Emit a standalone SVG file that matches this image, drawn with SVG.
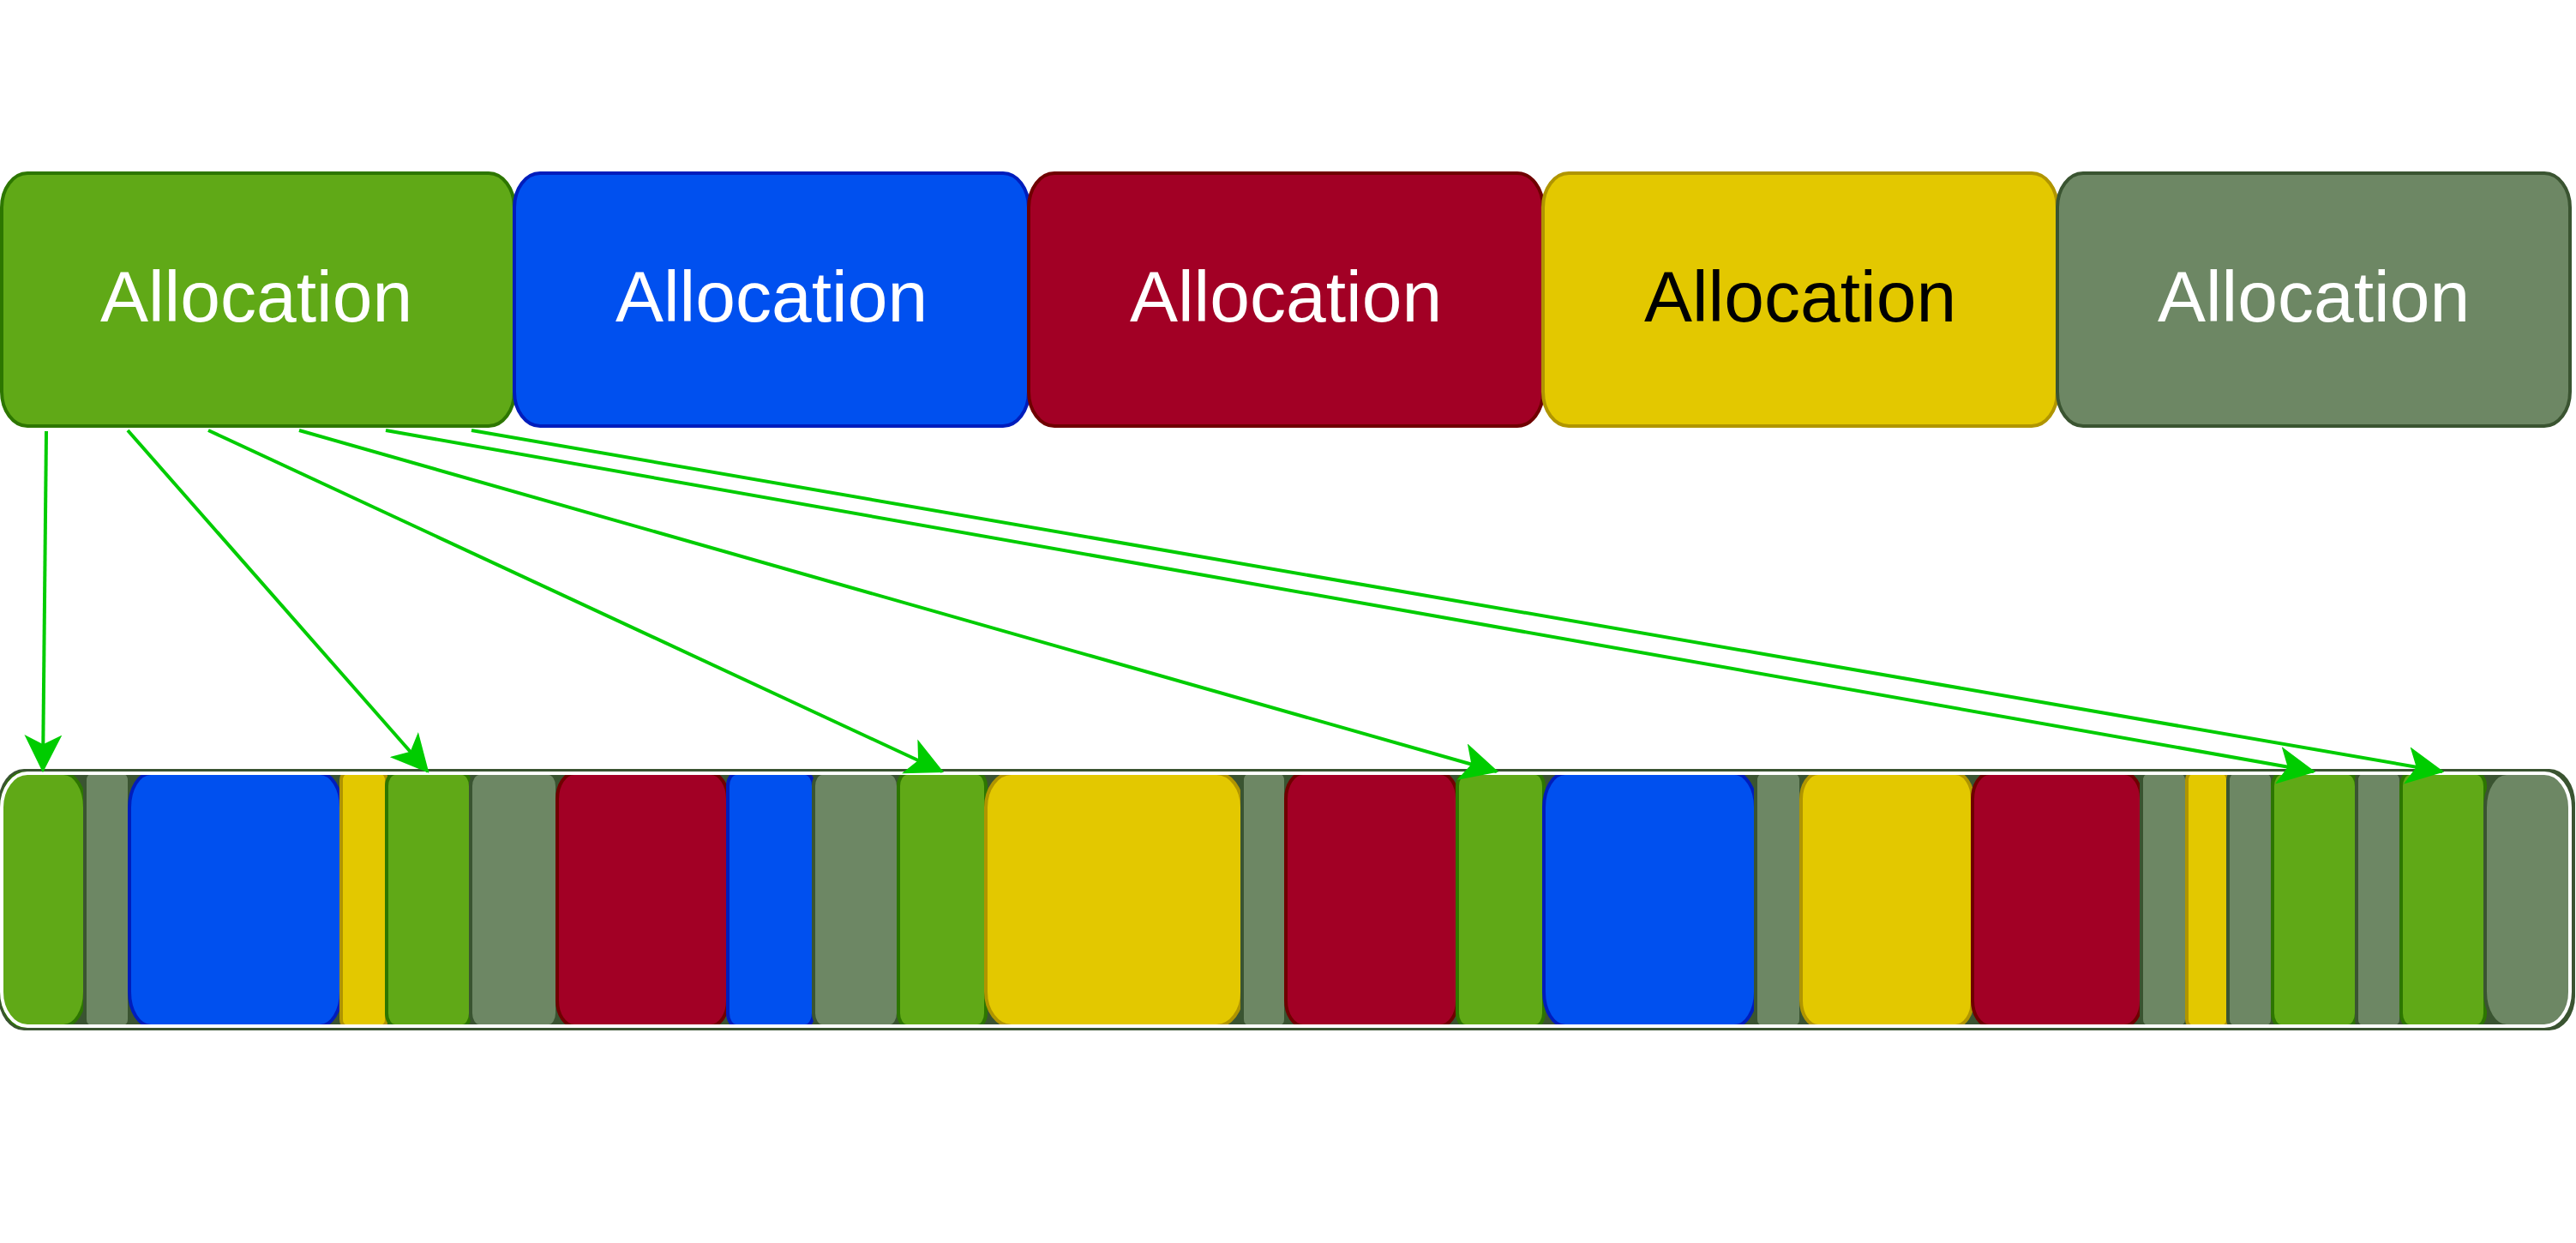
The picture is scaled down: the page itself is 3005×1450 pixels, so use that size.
<svg xmlns="http://www.w3.org/2000/svg" width="3005" height="1450" viewBox="0 0 3005 1450">
<style>
.g{fill:#60a917;stroke:#2d7600}.b{fill:#0050ef;stroke:#001dbc}.r{fill:#a20025;stroke:#6f0000}.y{fill:#e3c800;stroke:#b09500}.s{fill:#6d8764;stroke:#3a5431}
rect{stroke-width:4}
.t{font-family:"Liberation Sans",Arial,sans-serif;font-size:84px;text-anchor:middle;fill:#fff}
.c{stroke:#00cc00;stroke-width:4;fill:none;marker-end:url(#ah)}
</style>
<defs>
<marker id="ah" markerUnits="userSpaceOnUse" viewBox="0 0 40 40" refX="38" refY="20" markerWidth="44" markerHeight="44" orient="auto">
<path d="M0,0 L40,20 L0,40 L10,20 Z" fill="#00cc00"/>
</marker>
</defs>
<g id="top">
<g id="a1"><rect class="g" x="2" y="202" width="598" height="295" rx="30" ry="40"/><text class="t" x="299" y="375">Allocation</text></g>
<g id="a2"><rect class="b" x="600" y="202" width="600" height="295" rx="30" ry="40"/><text class="t" x="900" y="375">Allocation</text></g>
<g id="a3"><rect class="r" x="1200" y="202" width="600" height="295" rx="30" ry="40"/><text class="t" x="1500" y="375">Allocation</text></g>
<g id="a4"><rect class="y" x="1800" y="202" width="600" height="295" rx="30" ry="40"/><text class="t" x="2100" y="375" style="fill:#000">Allocation</text></g>
<g id="a5"><rect class="s" x="2400" y="202" width="598" height="295" rx="30" ry="40"/><text class="t" x="2699" y="375">Allocation</text></g>
</g>
<g id="bar">
<rect x="-2" y="897" width="3006" height="305" rx="30" ry="40" fill="#3a5431" stroke="none"/>
<rect class="g" x="2" y="902" width="97" height="295" rx="25" ry="40"/>
<rect class="s" x="99" y="902" width="52" height="295" rx="5" ry="8"/>
<rect class="b" x="151" y="902" width="247" height="295" rx="25" ry="40"/>
<rect class="y" x="398" y="902" width="53" height="295" rx="5" ry="8"/>
<rect class="g" x="451" y="902" width="98" height="295" rx="10" ry="15"/>
<rect class="s" x="549" y="902" width="101" height="295" rx="10" ry="15"/>
<rect class="r" x="650" y="902" width="199" height="295" rx="20" ry="30"/>
<rect class="b" x="849" y="902" width="100" height="295" rx="10" ry="15"/>
<rect class="s" x="949" y="902" width="99" height="295" rx="10" ry="15"/>
<rect class="g" x="1048" y="902" width="102" height="295" rx="10" ry="15"/>
<rect class="y" x="1150" y="902" width="299" height="295" rx="30" ry="40"/>
<rect class="s" x="1449" y="902" width="51" height="295" rx="5" ry="8"/>
<rect class="r" x="1500" y="902" width="200" height="295" rx="20" ry="30"/>
<rect class="g" x="1700" y="902" width="101" height="295" rx="10" ry="15"/>
<rect class="b" x="1801" y="902" width="247" height="295" rx="25" ry="40"/>
<rect class="s" x="2048" y="902" width="53" height="295" rx="5" ry="8"/>
<rect class="y" x="2101" y="902" width="200" height="295" rx="20" ry="30"/>
<rect class="r" x="2301" y="902" width="197" height="295" rx="20" ry="30"/>
<rect class="s" x="2498" y="902" width="53" height="295" rx="5" ry="8"/>
<rect class="y" x="2551" y="902" width="48" height="295" rx="5" ry="8"/>
<rect class="s" x="2599" y="902" width="52" height="295" rx="5" ry="8"/>
<rect class="g" x="2651" y="902" width="98" height="295" rx="10" ry="15"/>
<rect class="s" x="2749" y="902" width="52" height="295" rx="5" ry="8"/>
<rect class="g" x="2801" y="902" width="98" height="295" rx="10" ry="15"/>
<rect class="s" x="2899" y="902" width="99" height="295" rx="25" ry="40"/>
<rect x="2" y="902" width="2996" height="295" rx="30" ry="40" fill="none" stroke="#fff" stroke-width="4"/>
</g>
<g id="connectors">
<line class="c" x1="54" y1="503" x2="50" y2="899"/>
<line class="c" x1="149" y1="502" x2="499" y2="900"/>
<line class="c" x1="243" y1="502" x2="1099" y2="900"/>
<line class="c" x1="349" y1="502" x2="1746" y2="900"/>
<line class="c" x1="450" y1="502" x2="2699" y2="900"/>
<line class="c" x1="550" y1="502" x2="2849" y2="900"/>
</g>
</svg>
